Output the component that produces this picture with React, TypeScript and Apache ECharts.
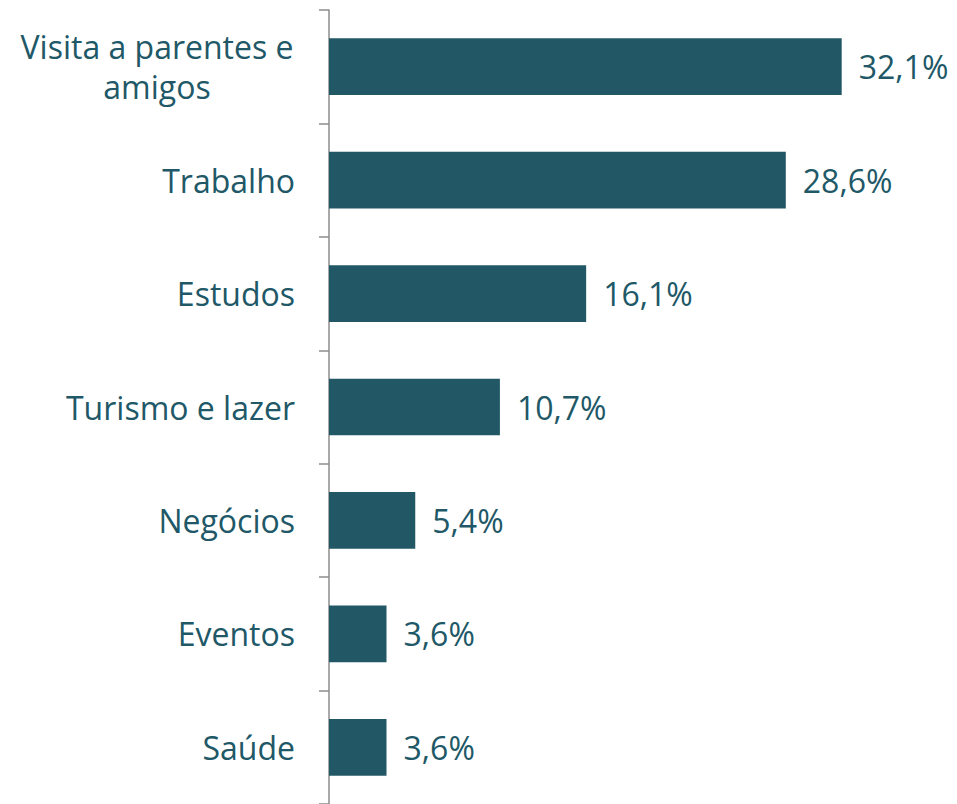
import React, { useEffect, useRef } from "react";
import * as echarts from "echarts";

const categories = [
  "Visita a parentes e\namigos",
  "Trabalho",
  "Estudos",
  "Turismo e lazer",
  "Negócios",
  "Eventos",
  "Saúde",
];
const values = [32.1, 28.6, 16.1, 10.7, 5.4, 3.6, 3.6];

const TEXT = "#215867";
const BAR = "#225866";
const FONT = "'Open Sans', sans-serif";
const FS = 32;

export default function App() {
  const ref = useRef<HTMLDivElement>(null);
  useEffect(() => {
    if (!ref.current) return;
    const chart = echarts.init(ref.current, undefined, { renderer: "svg" });
    chart.setOption({
      animation: false,
      grid: { left: 329, top: 10, width: 575, height: 796 },
      xAxis: { type: "value", min: 0, max: 36, show: false },
      yAxis: {
        type: "category",
        inverse: true,
        data: categories,
        axisLine: { show: true, lineStyle: { color: "#8c8c8c", width: 1.5 } },
        axisTick: { show: true, length: 10, lineStyle: { color: "#8c8c8c", width: 1.5 } },
        splitLine: { show: false },
        axisLabel: {
          margin: 34,
          color: TEXT,
          fontFamily: FONT,
          fontSize: FS,
          lineHeight: 40,
          formatter: (v: string) => {
            if (v.indexOf("\n") >= 0) {
              return v
                .split("\n")
                .map((s) => "{c|" + s + "}")
                .join("\n");
            }
            return v;
          },
          rich: {
            c: {
              width: 276,
              align: "center",
              color: TEXT,
              fontFamily: FONT,
              fontSize: FS,
              lineHeight: 40,
            },
          },
        },
      },
      series: [
        {
          type: "bar",
          data: values,
          barWidth: "50%",
          itemStyle: { color: BAR },
          label: {
            show: true,
            position: "right",
            distance: 17,
            color: TEXT,
            fontFamily: FONT,
            fontSize: FS,
            formatter: (p: any) => p.value.toFixed(1).replace(".", ",") + "%",
          },
        },
      ],
    });
    return () => chart.dispose();
  }, []);
  return (
    <div
      ref={ref}
      style={{ position: "fixed", left: 0, top: 0, width: 957, height: 804, background: "#fff" }}
    />
  );
}
